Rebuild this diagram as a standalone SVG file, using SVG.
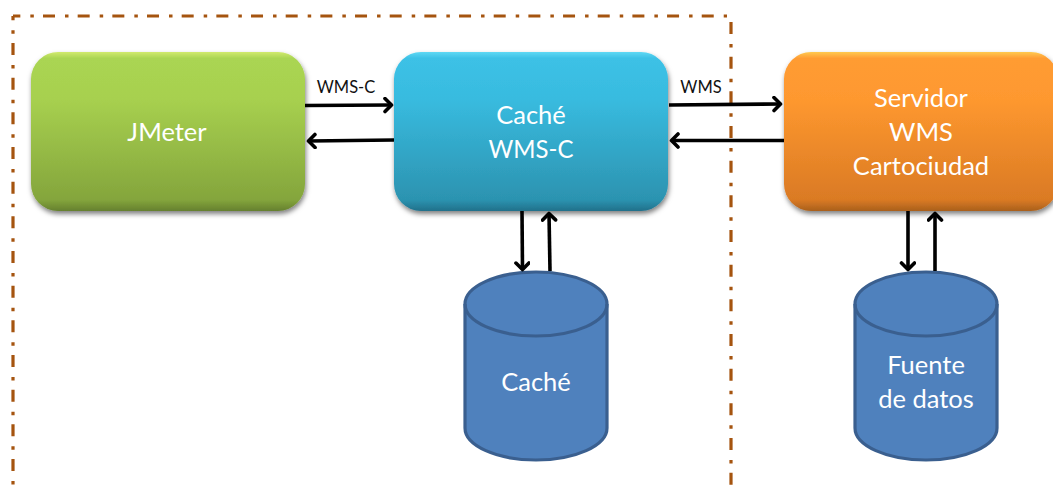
<svg xmlns="http://www.w3.org/2000/svg" width="1053" height="490" viewBox="0 0 1053 490">
<style>
text{font-family:"Lato","Open Sans",sans-serif}
.t{fill:#fff;font-size:25.500px;text-anchor:middle}
.l{fill:#111;font-size:16.500px;text-anchor:middle}
.b{fill:none;stroke:#A5540F;stroke-width:3.2;stroke-dasharray:12 10 3.5 9.17}
.c{fill:none;stroke:#000;stroke-width:3.600;marker-end:url(#a)}
.cyl{fill:#4F81BD;stroke:#3A5F8F;stroke-width:3.2}
.edge{fill:none;stroke:#3A5F8F;stroke-width:3.2}
</style>
<defs>
<marker id="a" markerUnits="userSpaceOnUse" markerWidth="20" markerHeight="20" refX="13" refY="8" orient="auto"><path d="M6.5 1.500L13 8L6.500 14.500" fill="none" stroke="#000" stroke-width="3.600" stroke-linecap="round" stroke-linejoin="round"/></marker>
<linearGradient id="g" x1="0" y1="0" x2="0" y2="1"><stop offset="0" stop-color="#D1EA6E"/><stop offset=".04" stop-color="#AAD552"/><stop offset=".3" stop-color="#A7D04F"/><stop offset=".93" stop-color="#84A53C"/><stop offset="1" stop-color="#65802F"/></linearGradient>
<linearGradient id="u" x1="0" y1="0" x2="0" y2="1"><stop offset="0" stop-color="#5FD8F4"/><stop offset=".04" stop-color="#3CC1E6"/><stop offset=".3" stop-color="#38BBDF"/><stop offset=".93" stop-color="#2C93B0"/><stop offset="1" stop-color="#21708A"/></linearGradient>
<linearGradient id="o" x1="0" y1="0" x2="0" y2="1"><stop offset="0" stop-color="#FFC94F"/><stop offset=".04" stop-color="#FF9C33"/><stop offset=".3" stop-color="#FE982F"/><stop offset=".93" stop-color="#DA7A24"/><stop offset="1" stop-color="#A9601C"/></linearGradient>
<filter id="s" x="-5%" y="-5%" width="110%" height="115%"><feDropShadow dx="1" dy="3" stdDeviation="2.5" flood-color="#000" flood-opacity=".5"/></filter>
</defs>
<g id="boundary">
<path class="b" stroke-dashoffset="7.67" d="M13 16V486"/>
<path class="b" stroke-dashoffset="4.67" d="M13 16H727"/>
<path class="b" d="M731 22V486"/>
</g>
<g id="jmeter"><rect x="31" y="52" width="274" height="159" rx="27" fill="url(#g)" filter="url(#s)"/><text class="t" x="167" y="141">JMeter</text></g>
<g id="cache-wmsc"><rect x="394" y="52" width="274" height="159" rx="27" fill="url(#u)" filter="url(#s)"/><text class="t" x="531" y="124">Caché</text><text class="t" x="531" y="158" textLength="85" lengthAdjust="spacingAndGlyphs">WMS-C</text></g>
<g id="servidor"><rect x="784" y="52" width="274" height="159" rx="27" fill="url(#o)" filter="url(#s)"/><text class="t" x="921" y="107">Servidor</text><text class="t" x="921" y="141">WMS</text><text class="t" x="921" y="175">Cartociudad</text></g>
<g id="db-cache"><path class="cyl" d="M465 304A71 32 0 0 1 607 304V428A71 32 0 0 1 465 428Z"/><path class="edge" d="M465 304A71 32 0 0 0 607 304"/><text class="t" x="536" y="391">Caché</text></g>
<g id="db-fuente"><path class="cyl" d="M855 304A71 32 0 0 1 997 304V428A71 32 0 0 1 855 428Z"/><path class="edge" d="M855 304A71 32 0 0 0 997 304"/><text class="t" x="926" y="374">Fuente</text><text class="t" x="926" y="408">de datos</text></g>
<g id="connectors">
<path class="c" d="M305 105.500L391.500 105"/>
<path class="c" d="M394 140L308.500 141"/>
<path class="c" d="M669 105L780.500 104"/>
<path class="c" d="M784 140.500L671.500 140.500"/>
<path class="c" d="M522 211L522.500 269.500"/>
<path class="c" d="M550 271L549 213.500"/>
<path class="c" d="M908 211L908 269.500"/>
<path class="c" d="M935 271L935 213.500"/>
</g>
<g id="labels"><text class="l" x="346" y="93">WMS-C</text><text class="l" x="701" y="93">WMS</text></g>
</svg>
